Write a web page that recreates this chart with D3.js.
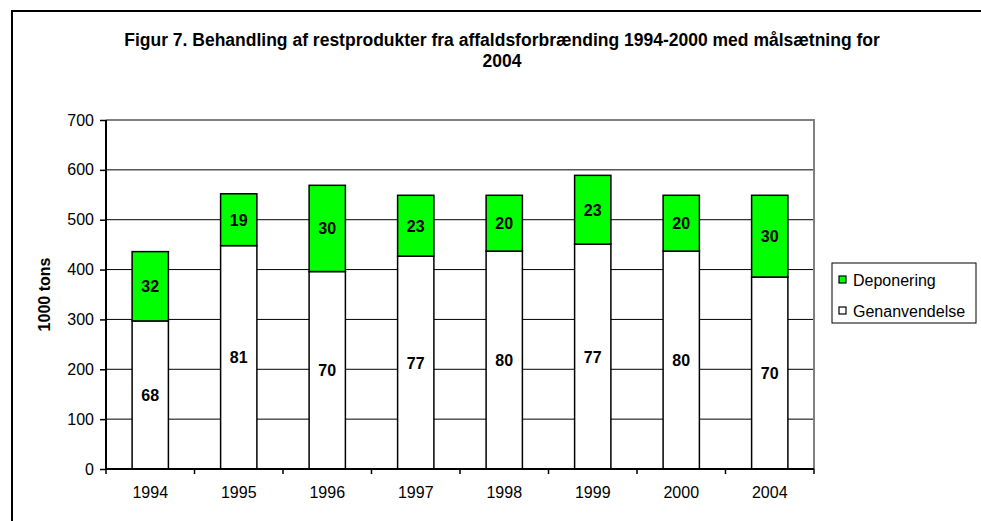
<!DOCTYPE html>
<html>
<head>
<meta charset="utf-8">
<script src="https://cdn.jsdelivr.net/npm/d3@7"></script>
<style>
body { margin: 0; background: #fff; }
text { font-family: Arial, "Liberation Sans", sans-serif; }
</style>
</head>
<body>
<script>
var years = ["1994", "1995", "1996", "1997", "1998", "1999", "2000", "2004"];
var genanvendelse = [297, 448, 396, 427, 437, 451, 437, 385];
var deponering = [139, 104, 173, 122, 112, 138, 112, 164];
var genLabels = ["68", "81", "70", "77", "80", "77", "80", "70"];
var depLabels = ["32", "19", "30", "23", "20", "23", "20", "30"];
var yTicks = [0, 100, 200, 300, 400, 500, 600, 700];
var seriesNames = ["Deponering", "Genanvendelse"];
var seriesColors = ["#00ff00", "#ffffff"];

var width = 981, height = 521;
var margin = {left: 106, top: 120, right: 167, bottom: 52};
var plotW = width - margin.left - margin.right;
var plotH = height - margin.top - margin.bottom;

var svg = d3.select("body").append("svg").attr("width", width).attr("height", height);

// outer frame
svg.append("rect").attr("x", 12).attr("y", 11).attr("width", 1000).attr("height", 600)
    .attr("fill", "none").attr("stroke", "#000").attr("stroke-width", 2);

svg.append("text").attr("x", 502).attr("y", 46).attr("text-anchor", "middle")
    .style("font-size", "17.5px").style("font-weight", "bold")
    .text("Figur 7. Behandling af restprodukter fra affaldsforbrænding 1994-2000 med målsætning for");
svg.append("text").attr("x", 502).attr("y", 67).attr("text-anchor", "middle")
    .style("font-size", "17.5px").style("font-weight", "bold").text("2004");

var g = svg.append("g").attr("transform", "translate(" + margin.left + "," + margin.top + ")");

var x = d3.scaleBand().domain(years).range([0, plotW]).paddingInner(0.59).paddingOuter(0.295);
var y = d3.scaleLinear().domain([0, 700]).range([plotH, 0]);

// gridlines
g.selectAll(".grid").data(yTicks.slice(1, -1)).enter().append("line")
    .attr("x1", 0).attr("x2", plotW)
    .attr("y1", function (d) { return y(d); }).attr("y2", function (d) { return y(d); })
    .attr("stroke", "#000").attr("stroke-width", 1);

// plot border (top, right)
g.append("path").attr("d", "M0," + y(700) + "H" + plotW + "V" + plotH)
    .attr("fill", "none").attr("stroke", "#808080").attr("stroke-width", 2);

var data = years.map(function (yr, i) {
    return {year: yr, gen: genanvendelse[i], dep: deponering[i], gl: genLabels[i], dl: depLabels[i]};
});

var bars = g.selectAll(".bar").data(data).enter().append("g");
bars.append("rect")
    .attr("x", function (d) { return x(d.year); })
    .attr("width", x.bandwidth())
    .attr("y", function (d) { return y(d.gen); })
    .attr("height", function (d) { return y(0) - y(d.gen); })
    .attr("fill", seriesColors[1]).attr("stroke", "#000").attr("stroke-width", 1.5);
bars.append("rect")
    .attr("x", function (d) { return x(d.year); })
    .attr("width", x.bandwidth())
    .attr("y", function (d) { return y(d.gen + d.dep); })
    .attr("height", function (d) { return y(d.gen) - y(d.gen + d.dep); })
    .attr("fill", seriesColors[0]).attr("stroke", "#000").attr("stroke-width", 1.5);
bars.append("text")
    .attr("x", function (d) { return x(d.year) + x.bandwidth() / 2; })
    .attr("y", function (d) { return y(d.gen / 2) + 6; })
    .attr("text-anchor", "middle").style("font-size", "16px").style("font-weight", "bold")
    .text(function (d) { return d.gl; });
bars.append("text")
    .attr("x", function (d) { return x(d.year) + x.bandwidth() / 2; })
    .attr("y", function (d) { return y(d.gen + d.dep / 2) + 6; })
    .attr("text-anchor", "middle").style("font-size", "16px").style("font-weight", "bold")
    .text(function (d) { return d.dl; });

// y axis
var yAxis = g.append("g").call(d3.axisLeft(y).tickValues(yTicks).tickSize(6).tickPadding(6));
yAxis.select(".domain").attr("stroke", "#000").attr("stroke-width", 2).attr("d", "M0," + plotH + "V" + y(700));
yAxis.selectAll("text").style("font-size", "16px").attr("fill", "#000");
yAxis.selectAll("line").attr("stroke-width", 1.5);

// x axis
var xAxis = g.append("g").attr("transform", "translate(0," + plotH + ")")
    .call(d3.axisBottom(x).tickSize(0).tickPadding(18));
xAxis.select(".domain").attr("stroke", "#000").attr("stroke-width", 2).attr("d", "M0,0H" + plotW);
xAxis.selectAll("text").style("font-size", "16px").attr("fill", "#000");
xAxis.selectAll(".sep").data(d3.range(years.length + 1)).enter().append("line")
    .attr("x1", function (i) { return i * x.step(); }).attr("x2", function (i) { return i * x.step(); })
    .attr("y1", 0).attr("y2", 5).attr("stroke", "#000").attr("stroke-width", 1.5);

svg.append("text")
    .attr("transform", "translate(50," + (margin.top + plotH / 2) + ") rotate(-90)")
    .attr("text-anchor", "middle").style("font-size", "16px").style("font-weight", "bold")
    .text("1000 tons");

// legend
var lg = svg.append("g").attr("transform", "translate(832,263)");
lg.append("rect").attr("width", 144).attr("height", 60).attr("fill", "#fff").attr("stroke", "#000");
seriesNames.forEach(function (name, i) {
    var ly = 17 + i * 31;
    lg.append("rect").attr("x", 7).attr("y", ly - 4).attr("width", 7).attr("height", 7)
        .attr("fill", seriesColors[i]).attr("stroke", "#000").attr("stroke-width", 1.2);
    lg.append("text").attr("x", 21).attr("y", ly + 6).style("font-size", "16px").text(name);
});
</script>
</body>
</html>
